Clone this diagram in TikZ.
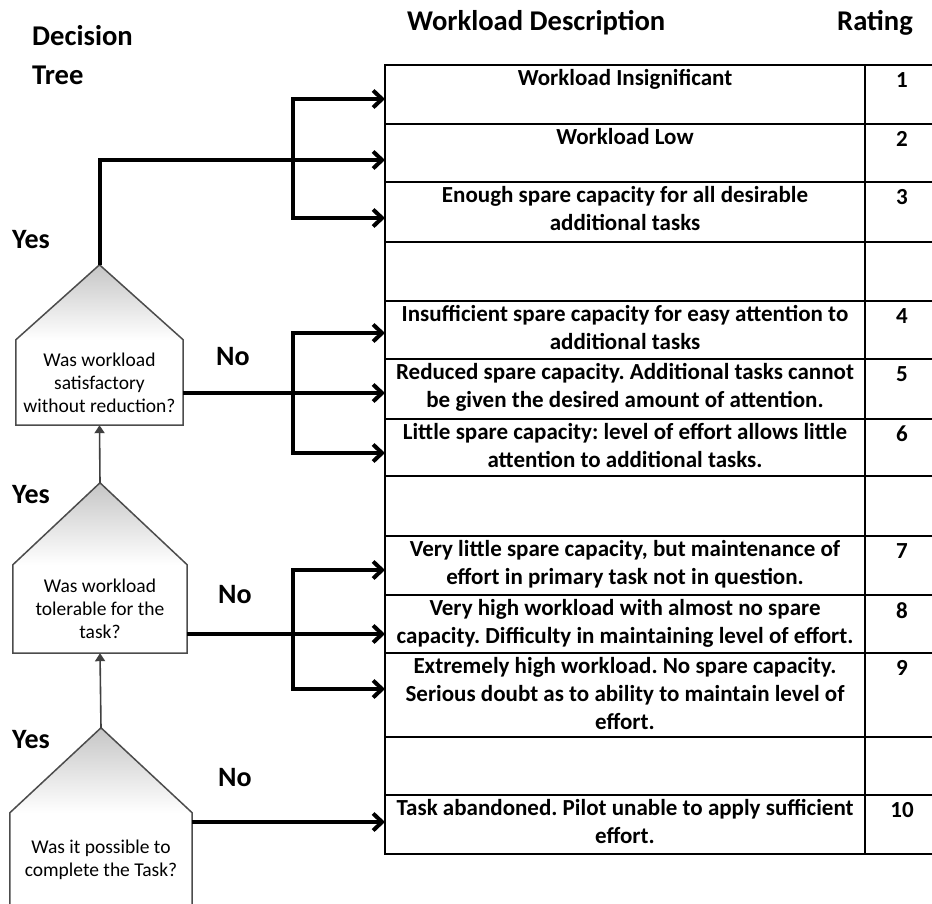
\documentclass[tikz,border=0pt]{standalone}
\usepackage{fontspec}
\setmainfont{Carlito}
\usetikzlibrary{arrows.meta, positioning}
\frenchspacing

\begin{document}
\begin{tikzpicture}[
        x=1pt, y=-1pt,
        head/.style={font=\fontsize{28.6}{32}\selectfont\bfseries, inner sep=0pt},
        answer/.style={head, font=\fontsize{28}{32}\selectfont\bfseries, anchor=base west},
        cell/.style={draw, line width=1.6pt, anchor=north west, minimum width=480pt, inner sep=0pt, outer sep=0pt},
        ratecell/.style={cell, minimum width=110pt},
        desc/.style={font=\fontsize{23}{28}\selectfont\bfseries, align=center, inner sep=0pt},
        question/.style={font=\fontsize{19.5}{23}\selectfont, align=center, inner sep=0pt},
        house/.style={draw=black!70, line width=1.5pt},
        roof/.style={top color=gray!45, bottom color=white},
        flow/.style={line width=4pt, -{Straight Barb[length=9pt, width=17pt]}},
        link/.style={draw=black!75, line width=1.6pt, -{Triangle[length=8pt, width=10pt]}}
    ]
    \fill[white] (0,0) rectangle (932,903);
    \useasboundingbox (0,0) rectangle (932,903);
    \clip (0,0) rectangle (932,903);

    % headings
    \node[head, anchor=north west, align=left, font=\fontsize{28.6}{39}\selectfont\bfseries] (tree) at (32,25) {Decision\\Tree};
    \node[head, anchor=base west] (wdesc) at (407,30) {Workload Description};
    \node[head, anchor=base west] (rhead) at (837,30) {Rating};

    % rating table
    \foreach \t/\b [count=\i] in {65/124,124/182,182/242,242/301,301/359,359/419,419/476,476/536,536/595,595/653,653/737,737/795,795/854} {
        \node[cell, minimum height={\b-\t}] (w\i) at (385,\t) {};
        \node[ratecell, minimum height={\b-\t}] (k\i) at (865,\t) {};
    }

    \node[desc, below=4pt of w1.north] (d1) {Workload Insignificant};
    \node[desc, below=4pt of w2.north] (d2) {Workload Low};
    \node[desc, below=4pt of w3.north] (d3) {Enough spare capacity for all desirable\\additional tasks};
    \node[desc, below=4pt of w5.north] (d4) {Insufficient spare capacity for easy attention to\\additional tasks};
    \node[desc, below=4pt of w6.north] (d5) {Reduced spare capacity. Additional tasks cannot\\be given the desired amount of attention.};
    \node[desc, below=4pt of w7.north] (d6) {Little spare capacity: level of effort allows little\\attention to additional tasks.};
    \node[desc, below=4pt of w9.north] (d7) {Very little spare capacity, but maintenance of\\effort in primary task not in question.};
    \node[desc, below=4pt of w10.north] (d8) {Very high workload with almost no spare\\capacity. Difficulty in maintaining level of effort.};
    \node[desc, below=4pt of w11.north] (d9) {Extremely high workload. No spare capacity.\\Serious doubt as to ability to maintain level of\\effort.};
    \node[desc, below=4pt of w13.north] (d10) {Task abandoned. Pilot unable to apply sufficient\\effort.};

    % ratings, centred on the visible part of the column
    \node[desc, below=7pt of k1.north west, xshift=37pt] (n1) {1};
    \node[desc, below=7pt of k2.north west, xshift=37pt] (n2) {2};
    \node[desc, below=7pt of k3.north west, xshift=37pt] (n3) {3};
    \node[desc, below=7pt of k5.north west, xshift=37pt] (n4) {4};
    \node[desc, below=7pt of k6.north west, xshift=37pt] (n5) {5};
    \node[desc, below=7pt of k7.north west, xshift=37pt] (n6) {6};
    \node[desc, below=7pt of k9.north west, xshift=37pt] (n7) {7};
    \node[desc, below=7pt of k10.north west, xshift=37pt] (n8) {8};
    \node[desc, below=7pt of k11.north west, xshift=37pt] (n9) {9};
    \node[desc, below=7pt of k13.north west, xshift=37pt] (n10) {10};

    % questions
    \node[question, minimum width=167pt, minimum height=85pt] (q1) at (99.5,382.5) {Was workload\\satisfactory\\without reduction?};
    \node[question, minimum width=174pt, minimum height=88pt] (q2) at (100,609) {Was workload\\tolerable for the\\task?};
    \node[question, minimum width=182pt, minimum height=93pt] (q3) at (101,859.5) {Was it possible to\\complete the Task?};

    \coordinate (q1top) at ([yshift=75pt]q1.north);
    \coordinate (q2top) at ([yshift=82pt]q2.north);
    \coordinate (q3top) at ([yshift=85pt]q3.north);

    \foreach \q in {q1,q2,q3} {
        \shade[roof] (\q.north west) -- (\q top) -- (\q.north east) -- cycle;
        \draw[house] (\q.south west) -- (\q.north west) -- (\q top) -- (\q.north east) -- (\q.south east) -- cycle;
    }

    \node[answer] (yes1) at (12,248) {Yes};
    \node[answer] (yes2) at (12,503) {Yes};
    \node[answer] (yes3) at (12,748) {Yes};
    \node[answer] (no1) at (216,365) {No};
    \node[answer] (no2) at (218,603) {No};
    \node[answer] (no3) at (218,786) {No};

    % yes: up the tree
    \draw[link] (q2top) -- (q1.south);
    \draw[link] (q3top) -- (q2.south);

    % forks into the table
    \coordinate (fork) at (292.5,0);

    \draw[flow] (q1top) |- ([yshift=-7pt]w2.west);
    \draw[flow] ([yshift=-7pt]w2.west -| fork) |- ([yshift=-4.5pt]w1.west);
    \draw[flow] ([yshift=-7pt]w2.west -| fork) |- ([yshift=-6pt]w3.west);

    \draw[flow] ([yshift=-4pt]w6.west -| q1.east) -- ([yshift=-4pt]w6.west);
    \draw[flow] ([yshift=-4pt]w6.west -| fork) |- ([yshift=-3pt]w5.west);
    \draw[flow] ([yshift=-4pt]w6.west -| fork) |- ([yshift=-5.5pt]w7.west);

    \draw[flow] ([yshift=-10pt]w10.west -| q2.east) -- ([yshift=-10pt]w10.west);
    \draw[flow] ([yshift=-10pt]w10.west -| fork) |- ([yshift=-4.5pt]w9.west);
    \draw[flow] ([yshift=-10pt]w10.west -| fork) |- ([yshift=6pt]w11.west);

    \draw[flow] ([yshift=2.5pt]w13.west -| q3.east) -- ([yshift=2.5pt]w13.west);

\end{tikzpicture}
\end{document}
